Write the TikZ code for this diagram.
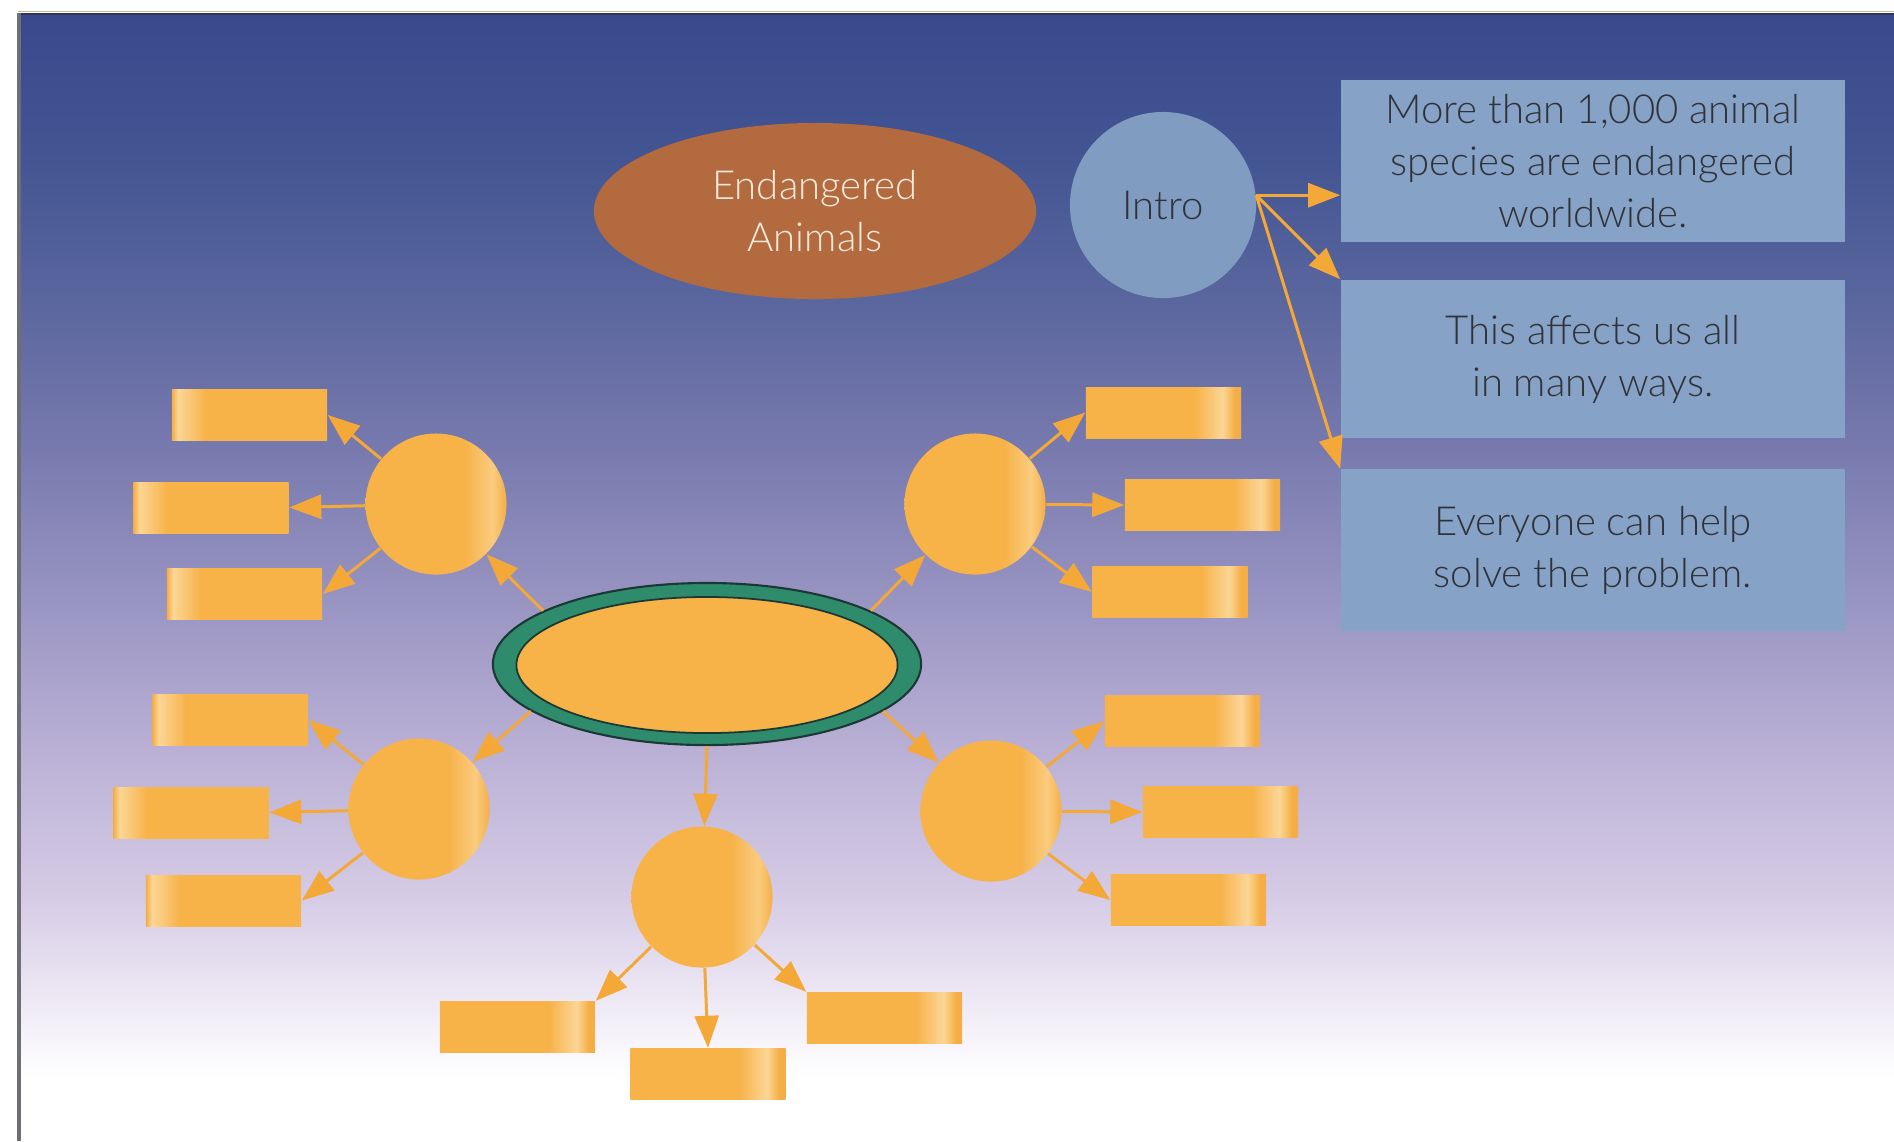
\documentclass[tikz,border=0pt]{standalone}
\usepackage{fontspec}
\setmainfont{Lato}[UprightFont=* Light]
\usetikzlibrary{shapes.geometric,arrows.meta}
\definecolor{og}{RGB}{247,178,72}
\definecolor{oghl}{RGB}{251,214,150}
\definecolor{ogedge}{RGB}{245,174,70}
\definecolor{arrowc}{RGB}{244,168,56}
\definecolor{brownc}{RGB}{178,106,62}
\definecolor{boxblue}{RGB}{134,162,198}
\definecolor{introblue}{RGB}{128,156,192}
\definecolor{txtgray}{RGB}{48,50,56}
\definecolor{cream}{RGB}{245,234,220}
\definecolor{ringgreen}{RGB}{46,140,108}
\definecolor{ringdark}{RGB}{28,56,52}
\definecolor{bgA}{RGB}{238,233,245}
\definecolor{bgB}{RGB}{214,204,230}
\definecolor{bgC}{RGB}{186,176,213}
\definecolor{bgD}{RGB}{152,148,194}
\definecolor{bgE}{RGB}{120,122,174}
\definecolor{bgF}{RGB}{90,102,158}
\definecolor{bgG}{RGB}{66,84,146}
\definecolor{bgH}{RGB}{56,74,140}
\pgfdeclareverticalshading{bgshade}{100bp}{color(0bp)=(white); color(25bp)=(white); color(27.8bp)=(white); color(31.2bp)=(bgA); color(35.7bp)=(bgB); color(42.3bp)=(bgC); color(49bp)=(bgD); color(55.6bp)=(bgE); color(62.3bp)=(bgF); color(68.9bp)=(bgG); color(75bp)=(bgH); color(100bp)=(bgH)}
\pgfdeclarehorizontalshading{rectR}{100bp}{color(0bp)=(og); color(25bp)=(og); color(60bp)=(og); color(69bp)=(oghl); color(73bp)=(ogedge); color(100bp)=(ogedge)}
\pgfdeclarehorizontalshading{rectL}{100bp}{color(0bp)=(ogedge); color(25bp)=(ogedge); color(27bp)=(oghl); color(36bp)=(og); color(75bp)=(og); color(100bp)=(og)}
\pgfdeclarehorizontalshading{circR}{100bp}{color(0bp)=(og); color(25bp)=(og); color(60bp)=(og); color(70bp)=(oghl!70!og); color(75bp)=(ogedge); color(100bp)=(ogedge)}
\begin{document}
\begin{tikzpicture}[x=0.01cm,y=-0.01cm,
  txt/.style={font=\fontsize{11.4pt}{14.8pt}\selectfont, align=center},
  orectR/.style={rectangle, minimum width=1.55cm, minimum height=0.51cm, inner sep=0pt, shading=rectR},
  orectL/.style={rectangle, minimum width=1.55cm, minimum height=0.51cm, inner sep=0pt, shading=rectL},
  ocirc/.style={circle, minimum size=1.41cm, inner sep=0pt, shading=circR},
  bluebox/.style={rectangle, fill=boxblue, minimum width=5.04cm, minimum height=1.6cm, inner sep=0pt, txt, text=txtgray},
  arr/.style={draw=arrowc, line width=0.85pt, -{Triangle[length=3.2mm,width=2.4mm]}, fill=arrowc}
]
\useasboundingbox (0,0) rectangle (1894,1141);
\fill[white] (0,0) rectangle (1894,1141);
\shade[shading=bgshade] (18,13) rectangle (1894,1141);
\draw[color={rgb,255:red,200;green,185;blue,150}, line width=0.1mm] (18,11) -- (1894,11);
\draw[color={rgb,255:red,50;green,52;blue,80}, line width=0.2mm] (18,14) -- (1894,14);
\draw[color={rgb,255:red,110;green,110;blue,120}, line width=0.3mm] (19,13) -- (19,1141);

% title and intro
\node[ellipse, fill=brownc, minimum width=4.42cm, minimum height=1.76cm, inner sep=0pt, txt, text=cream] (title) at (815,211) {Endangered\\Animals};
\node[circle, fill=introblue, minimum size=1.86cm, inner sep=0pt, txt, text=txtgray] (intro) at (1163,205) {Intro};

\node[bluebox, minimum height=1.61cm] (box1) at (1593,161) {More than 1,000 animal\\species are endangered\\worldwide.};
\node[bluebox, minimum height=1.58cm] (box2) at (1593,359) {This affects us all\\in many ways.};
\node[bluebox, minimum height=1.61cm] (box3) at (1593,550) {Everyone can help\\solve the problem.};

\coordinate (istart) at (intro.6);
\draw[arr] (istart) -- (box1.west |- istart);
\draw[arr] (istart) -- (box2.north west);
\draw[arr] (istart) -- (box3.north west);

% central ellipse
\node[ellipse, fill=ringgreen, draw=ringdark, line width=0.6pt, minimum width=4.28cm, minimum height=1.62cm, inner sep=0pt] (central) at (707,664) {};
\node[ellipse, fill=og, draw=ringdark, line width=0.5pt, minimum width=3.81cm, minimum height=1.36cm, inner sep=0pt] (centralin) at (707,665) {};

% circles
\node[ocirc] (ul) at (436,504) {};
\node[ocirc] (ur) at (975,504) {};
\node[ocirc] (ll) at (419,809) {};
\node[ocirc] (lr) at (991,811) {};
\node[ocirc] (bc) at (702,897) {};

% rectangles
\node[orectL] (ul1) at (249.5,415) {};
\node[orectL] (ul2) at (211,507.5) {};
\node[orectL] (ul3) at (244.5,594) {};
\node[orectR] (ur1) at (1163.5,412.5) {};
\node[orectR] (ur2) at (1202.5,505) {};
\node[orectR] (ur3) at (1170,592) {};
\node[orectL] (ll1) at (230,720) {};
\node[orectL] (ll2) at (191,812.5) {};
\node[orectL] (ll3) at (223.5,900.5) {};
\node[orectR] (lr1) at (1182.5,721) {};
\node[orectR] (lr2) at (1220.5,812) {};
\node[orectR] (lr3) at (1188.5,900) {};
\node[orectR] (b1) at (517.5,1027) {};
\node[orectR] (b2) at (708,1074) {};
\node[orectR] (b3) at (884.5,1018) {};

% central to circles
\draw[arr] (central.162) -- (ul);
\draw[arr] (central.18) -- (ur);
\draw[arr] (central.195) -- (ll);
\draw[arr] (central.345) -- (lr);
\draw[arr] (central.south) -- (bc);

% circles to rectangles
\draw[arr] (ul) -- (ul1.east);
\draw[arr] (ul) -- (ul2.east);
\draw[arr] (ul) -- (ul3.east);
\draw[arr] (ur) -- (ur1.west);
\draw[arr] (ur) -- (ur2.west);
\draw[arr] (ur) -- (ur3.west);
\draw[arr] (ll) -- (ll1.east);
\draw[arr] (ll) -- (ll2.east);
\draw[arr] (ll) -- (ll3.east);
\draw[arr] (lr) -- (lr1.west);
\draw[arr] (lr) -- (lr2.west);
\draw[arr] (lr) -- (lr3.west);
\draw[arr] (bc) -- (b1.north east);
\draw[arr] (bc) -- (b2.north);
\draw[arr] (bc) -- (b3.north west);
\end{tikzpicture}
\end{document}
